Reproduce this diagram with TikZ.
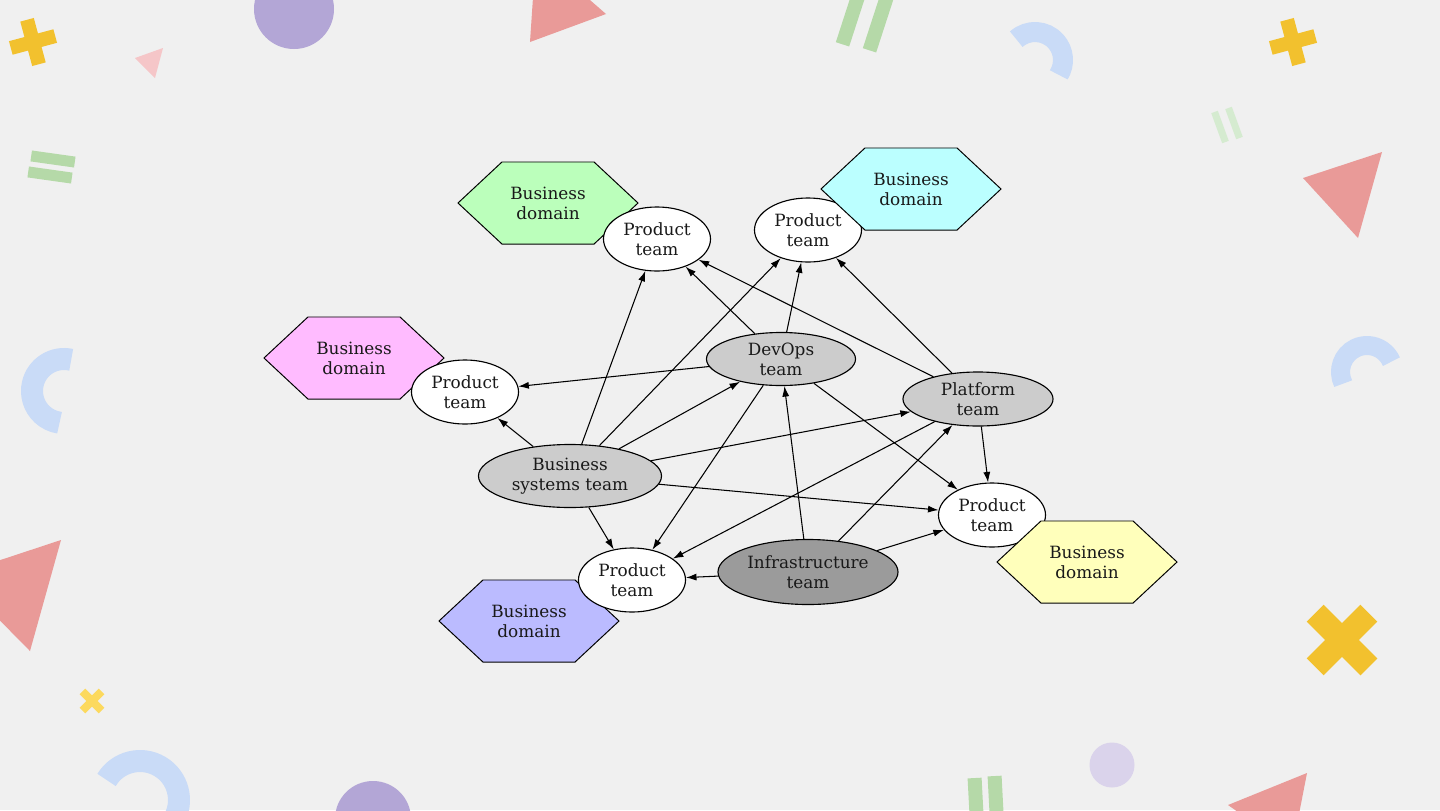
\documentclass[tikz,border=0pt]{standalone}
\usepackage{fontspec}
\setmainfont{DejaVu Serif}
\usetikzlibrary{
    arrows.meta,
    shapes.geometric,
    shapes.symbols
}

\definecolor{bgcol}{HTML}{F0F0F0}
\definecolor{sunny}{HTML}{F2C12E}
\definecolor{sunnylight}{HTML}{FCD95E}
\definecolor{salmon}{HTML}{E99A98}
\definecolor{blush}{HTML}{F5C6C8}
\definecolor{lilac}{HTML}{B3A6D6}
\definecolor{lilaclight}{HTML}{DAD3EB}
\definecolor{sky}{HTML}{C9DBF7}
\definecolor{leaf}{HTML}{B5D9A8}
\definecolor{leaflight}{HTML}{D5EBD0}
\definecolor{mint}{HTML}{BBFFBB}
\definecolor{aqua}{HTML}{BBFFFF}
\definecolor{orchid}{HTML}{FFBBFF}
\definecolor{butter}{HTML}{FFFFBB}
\definecolor{periwinkle}{HTML}{BBBBFF}
\definecolor{silver}{HTML}{CCCCCC}
\definecolor{slate}{HTML}{9B9B9B}

\tikzset{
    teamfont/.style={font={\fontsize{12pt}{14.2pt}\selectfont}, text=black!90},
    unit/.style={draw, ellipse, line width=0.8pt, inner sep=0pt, align=center, teamfont},
    product/.style={unit, fill=white, minimum width=2.675cm, minimum height=1.6cm},
    domainhex/.style={draw, signal, signal to=west and east, signal pointer angle=86,
        line width=0.7pt, inner sep=0pt, minimum width=4.5cm, minimum height=2.05cm,
        align=center, teamfont}
}

\begin{document}
\begin{tikzpicture}[x=0.025cm, y=-0.025cm, >={Latex[length=7.5pt,width=5pt]}]
    \useasboundingbox (0,0) rectangle (1440,810);
    \fill[bgcol] (0,0) rectangle (1440,810);

    % decorations
    \begin{scope}
        \clip (0,0) rectangle (1440,810);
        \foreach \px/\py in {33/42, 1293/42}
            \fill[sunny, shift={(\px,\py)}, rotate=15] (-23,-7) rectangle (23,7) (-7,-23) rectangle (7,23);
        \fill[sunny, shift={(1342,640)}, rotate=45] (-38,-12) rectangle (38,12) (-12,-38) rectangle (12,38);
        \fill[sunnylight, shift={(92,701)}, rotate=45] (-13.5,-4) rectangle (13.5,4) (-4,-13.5) rectangle (4,13.5);
        \fill[lilac] (294,9) circle[radius=40];
        \fill[lilac] (373,819) circle[radius=38];
        \fill[lilaclight] (1112,765) circle[radius=22.5];
        \fill[salmon] (530,42) -- (536,-47) -- (606,14) -- cycle;
        \fill[salmon] (1303,178) -- (1382,152) -- (1358,238) -- cycle;
        \fill[salmon] (-45,575) -- (61,540) -- (30,651) -- cycle;
        \fill[salmon] (1228,805) -- (1307,773) -- (1292,850) -- cycle;
        \fill[blush] (135,58) -- (163,48) -- (155,78) -- cycle;
        \draw[sky, line width=0.5cm] (1035,60) ++(-132:28) arc[start angle=-132, end angle=32, radius=28];
        \draw[sky, line width=0.55cm] (64,391) ++(-77:32) arc[start angle=-77, end angle=-262, radius=32];
        \draw[sky, line width=0.475cm] (1367,372) ++(-206:26.5) arc[start angle=-206, end angle=-23, radius=26.5];
        \draw[sky, line width=0.55cm] (140,800) ++(-149:39) arc[start angle=-149, end angle=30, radius=39];
        \foreach \px/\py in {53/159, 50/175}
            \fill[leaf, shift={(\px,\py)}, rotate=-8] (-22,-5.5) rectangle (22,5.5);
        \foreach \px/\py in {853/12, 880/18}
            \fill[leaf, shift={(\px,\py)}, rotate=-18] (-7,-34) rectangle (7,34);
        \foreach \px/\py in {1220/127, 1234/123}
            \fill[leaflight, shift={(\px,\py)}, rotate=20] (-3.5,-16) rectangle (3.5,16);
        \foreach \px/\py in {976/805, 996/803}
            \fill[leaf, shift={(\px,\py)}, rotate=3] (-7,-27) rectangle (7,27);
    \end{scope}

    % domains and teams
    \node[domainhex, fill=mint] (domTL) at (548,203) {Business\\domain};
    \node[product] (ptTL) at (657,239) {Product\\team};
    \node[product] (ptTR) at (808,230) {Product\\team};
    \node[domainhex, fill=aqua] (domTR) at (911,189) {Business\\domain};
    \node[domainhex, fill=orchid] (domL) at (354,358) {Business\\domain};
    \node[product] (ptL) at (465,392) {Product\\team};
    \node[product] (ptR) at (992,515) {Product\\team};
    \node[domainhex, fill=butter] (domR) at (1087,562) {Business\\domain};
    \node[domainhex, fill=periwinkle] (domB) at (529,621) {Business\\domain};
    \node[product] (ptB) at (632,580) {Product\\team};
    \node[unit, fill=silver, minimum width=3.725cm, minimum height=1.325cm] (dev) at (781,359) {DevOps\\team};
    \node[unit, fill=silver, minimum width=3.75cm, minimum height=1.35cm] (plat) at (978,399) {Platform\\team};
    \node[unit, fill=silver, minimum width=4.575cm, minimum height=1.575cm] (bst) at (570,476) {Business\\systems team};
    \node[unit, fill=slate, minimum width=4.5cm, minimum height=1.625cm] (infra) at (808,572) {Infrastructure\\team};

    \draw[line width=0.75pt]
    (bst) edge[->] (ptL)
    (bst) edge[->] (ptTL)
    (bst) edge[->] (ptTR)
    (bst) edge[->] (dev)
    (bst) edge[->] (plat)
    (bst) edge[->] (ptR)
    (bst) edge[->] (ptB)
    (dev) edge[->] (ptTL)
    (dev) edge[->] (ptTR)
    (dev) edge[->] (ptL)
    (dev) edge[->] (ptR)
    (dev) edge[->] (ptB)
    (plat) edge[->] (ptTL)
    (plat) edge[->] (ptTR)
    (plat) edge[->] (ptR)
    (plat) edge[->] (ptB)
    (infra) edge[->] (dev)
    (infra) edge[->] (plat)
    (infra) edge[->] (ptR)
    (infra) edge[->] (ptB);
\end{tikzpicture}
\end{document}
